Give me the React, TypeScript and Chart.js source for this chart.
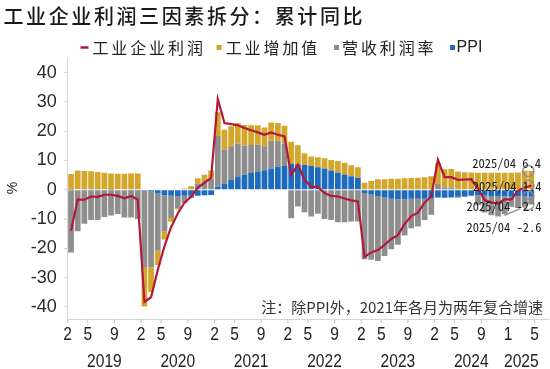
import React, { useEffect, useRef } from "react";
import { Chart, registerables } from "chart.js";
Chart.register(...registerables);

// ---------- data ----------
const yearList = [2019, 2020, 2021, 2022, 2023, 2024, 2025];
const monthsFullYear = [2, 3, 4, 5, 6, 7, 8, 9, 10, 11, 12];
const months2025 = [1, 2, 3, 4, 5, 6];
const shownMonths = [2, 5, 9];
const shownMonths2025 = [1, 5];

const categories: string[] = [];
yearList.forEach((yr) => {
  const ms = yr === 2025 ? months2025 : monthsFullYear;
  ms.forEach((m) => categories.push(`${yr}/${String(m).padStart(2, "0")}`));
});

const profit = [
  -14.0, -3.3, -3.4, -2.3, -2.4, -1.7, -1.7, -2.1, -2.9, -2.1, -3.3,
  -38.3, -36.7, -27.4, -19.3, -12.8, -8.1, -4.4, -2.4, 0.7, 2.4, 4.1,
  31.0, 22.8, 22.4, 22.0, 21.1, 20.3, 19.6, 18.8, 19.6, 18.8, 18.2,
  5.0, 8.5, 3.5, 1.0, 1.0, -1.1, -2.1, -2.3, -3.0, -3.6, -4.0,
  -22.9, -21.4, -20.6, -18.8, -16.8, -15.5, -11.7, -9.0, -7.8, -4.4, -2.3,
  10.2, 4.3, 4.3, 3.4, 3.5, 3.6, 0.5, -3.5, -4.3, -4.7, -3.3,
  -3.3, -0.3, 0.8, 1.4, null, null,
];

const valueAdded = [
  5.3, 6.4, 6.1, 6.0, 5.8, 5.6, 5.5, 5.5, 5.5, 5.6, 5.6,
  -13.5, -8.4, -4.9, -2.8, -1.3, -0.4, 0.4, 1.2, 1.8, 2.3, 2.8,
  8.1, 6.8, 6.8, 7.0, 7.0, 6.7, 6.6, 6.4, 6.3, 6.1, 6.1,
  7.5, 6.5, 4.0, 3.3, 3.4, 3.5, 3.6, 3.9, 4.0, 3.8, 3.6,
  2.4, 3.0, 3.6, 3.6, 3.8, 3.8, 3.9, 4.0, 4.1, 4.3, 4.6,
  7.0, 6.1, 6.3, 6.2, 6.0, 5.9, 5.8, 5.8, 5.8, 5.8, 5.8,
  5.8, 5.9, 6.5, 6.4, null, null,
];

const margin = [
  -21.4, -14.2, -11.6, -10.3, -10.3, -9.3, -8.8, -8.3, -9.3, -9.2, -9.7,
  -26.2, -25.9, -19.5, -12.3, -7.6, -4.2, -2.5, -0.8, 2.1, 2.8, 3.8,
  17.4, 11.6, 11.6, 11.4, 10.0, 9.6, 9.2, 8.2, 9.4, 8.8, 7.7,
  -9.7, -5.7, -7.7, -9.1, -8.2, -10.0, -10.3, -11.1, -11.1, -10.8, -10.8,
  -22.6, -22.3, -22.2, -20.0, -17.2, -15.6, -12.4, -10.0, -9.4, -7.2, -5.5,
  2.0, 0.9, 0.8, -0.3, -0.4, -0.3, -3.4, -5.8, -6.6, -7.0, -6.2,
  -3.5, -4.0, -3.4, -2.6, null, null,
];

const ppi = [
  0.1, 0.2, 0.3, 0.3, 0.3, 0.2, 0.1, 0.0, -0.2, -0.3, -0.3,
  -0.2, -0.6, -1.3, -1.9, -2.0, -2.1, -2.0, -2.0, -2.0, -1.9, -1.8,
  1.0, 2.1, 3.3, 4.4, 5.1, 5.7, 6.2, 6.7, 7.3, 7.9, 8.1,
  8.9, 8.7, 8.5, 8.1, 7.7, 7.3, 6.6, 5.9, 5.2, 4.6, 4.1,
  -1.1, -1.6, -2.1, -2.6, -3.1, -3.2, -3.2, -3.1, -3.1, -3.1, -3.0,
  -2.6, -2.7, -2.6, -2.4, -2.1, -1.9, -1.9, -2.0, -2.1, -2.1, -2.2,
  -2.3, -2.2, -2.3, -2.4, null, null,
];

const yTicks = [40, 30, 20, 10, 0, -10, -20, -30, -40];

const TITLE = "工业企业利润三因素拆分：累计同比";
const NOTE = "注：除PPI外，2021年各月为两年复合增速";
const seriesNames = ["工业企业利润", "工业增加值", "营收利润率", "PPI"];

const COLORS = {
  line: "#B3173A",
  va: "#D4A72C",
  margin: "#8E8E8E",
  ppi: "#1D6BBF",
  text: "#222222",
  axis: "#D6D6D6",
};

const LATIN = '"Liberation Sans", Arial, sans-serif';
const CJK = '"Noto Sans CJK SC", sans-serif';
const MONO = '"Noto Sans Mono CJK SC", "DejaVu Sans Mono", monospace';

const textPlugin = {
  id: "textPlugin",
  afterDraw(chart: any) {
    const ctx: CanvasRenderingContext2D = chart.ctx;
    const xs = chart.scales.x;
    const ys = chart.scales.y;
    const area = chart.chartArea;
    ctx.save();
    ctx.textBaseline = "middle";

    // title
    ctx.fillStyle = "#1a1a1a";
    ctx.font = `500 20px ${CJK}`;
    (ctx as any).letterSpacing = "2.6px";
    ctx.textAlign = "left";
    ctx.fillText(TITLE, 3.5, 16);

    // legend
    const ly = 47.5;
    ctx.font = `16px ${CJK}`;
    (ctx as any).letterSpacing = "2.9px";
    ctx.fillStyle = COLORS.text;
    ctx.strokeStyle = COLORS.line;
    ctx.lineWidth = 2.5;
    ctx.beginPath();
    ctx.moveTo(80.5, ly);
    ctx.lineTo(88.5, ly);
    ctx.stroke();
    ctx.fillText(seriesNames[0], 92.4, ly);
    ctx.fillStyle = COLORS.va;
    ctx.fillRect(216.5, ly - 2.5, 5, 5);
    ctx.fillStyle = COLORS.text;
    ctx.fillText(seriesNames[1], 225.7, ly);
    ctx.fillStyle = COLORS.margin;
    ctx.fillRect(334, ly - 2.5, 5, 5);
    ctx.fillStyle = COLORS.text;
    ctx.fillText(seriesNames[2], 342, ly);
    ctx.fillStyle = COLORS.ppi;
    ctx.fillRect(450, ly - 2.5, 5, 5);
    ctx.fillStyle = COLORS.text;
    (ctx as any).letterSpacing = "0px";
    ctx.font = `16px ${LATIN}`;
    ctx.fillText(seriesNames[3], 456.6, ly);

    // % label
    ctx.save();
    ctx.translate(13.5, 188);
    ctx.rotate(-Math.PI / 2);
    ctx.textAlign = "center";
    ctx.font = `14px ${LATIN}`;
    ctx.fillText("%", 0, 0);
    ctx.restore();

    // note
    ctx.font = `15px ${CJK}`;
    ctx.textAlign = "right";
    ctx.fillStyle = "#333";
    ctx.fillText(NOTE, 543, 307.5);

    // x axis ticks & labels
    const step = xs.getPixelForValue(1) - xs.getPixelForValue(0);
    const drawNarrow = (t: string, px: number, py: number) => {
      ctx.save();
      ctx.translate(px, py);
      ctx.scale(0.82, 1);
      ctx.textAlign = "center";
      ctx.fillText(t, 0, 0);
      ctx.restore();
    };
    ctx.font = `19px ${LATIN}`;
    ctx.fillStyle = COLORS.text;
    ctx.strokeStyle = "#BFBFBF";
    ctx.lineWidth = 1;
    yearList.forEach((yr) => {
      const ms = yr === 2025 ? shownMonths2025 : shownMonths;
      ms.forEach((m) => {
        const idx = categories.indexOf(`${yr}/${String(m).padStart(2, "0")}`);
        const px = xs.getPixelForValue(idx) - step / 2;
        ctx.beginPath();
        ctx.moveTo(px, area.bottom);
        ctx.lineTo(px, area.bottom + 3.5);
        ctx.stroke();
        drawNarrow(String(m), px, 335);
      });
      const idxs = categories
        .map((c, i) => (c.startsWith(`${yr}/`) && profit[i] !== null ? i : -1))
        .filter((i) => i >= 0);
      const first = xs.getPixelForValue(idxs[0]) - step / 2;
      const last = xs.getPixelForValue(idxs[idxs.length - 1]) + step / 2;
      drawNarrow(String(yr), (first + last) / 2, 361.5);
    });

    // end-of-series annotations
    const li = profit.reduce((acc: number, v, i) => (v !== null ? i : acc), 0);
    const lab = categories[li];
    const lx = xs.getPixelForValue(li) - 3;
    const vaTop = (valueAdded[li] as number) + Math.max(0, ppi[li] as number) + Math.max(0, margin[li] as number);
    const ppiBottom = Math.min(0, ppi[li] as number);
    const grayBottom = ppiBottom + Math.min(0, margin[li] as number);
    ctx.strokeStyle = "rgba(140,140,140,0.85)";
    ctx.lineWidth = 1.6;
    [vaTop, profit[li] as number, ppiBottom, grayBottom].forEach((v) => {
      ctx.beginPath();
      ctx.arc(lx, ys.getPixelForValue(v), 5.5, 0, Math.PI * 2);
      ctx.stroke();
    });
    ctx.beginPath();
    ctx.moveTo(lx - 24, ys.getPixelForValue(grayBottom) + 11);
    ctx.lineTo(lx - 8, ys.getPixelForValue(grayBottom) + 4);
    ctx.stroke();

    ctx.font = `12.5px ${MONO}`;
    ctx.fillStyle = "#1a1a1a";
    ctx.textAlign = "right";
    const fmt = (v: number) => v.toFixed(1);
    ctx.fillText(`${lab} ${fmt(valueAdded[li] as number)}`, 541, 163.5);
    ctx.fillText(`${lab} ${fmt(profit[li] as number)}`, 541.5, 186);
    ctx.fillText(`${lab} ${fmt(ppi[li] as number)}`, 541.5, 206);
    ctx.fillText(`${lab} ${fmt(margin[li] as number)}`, 541.5, 227);

    ctx.restore();
  },
};

export default function App() {
  const ref = useRef<HTMLCanvasElement | null>(null);
  useEffect(() => {
    document.body.style.margin = "0";
    const chart = new Chart(ref.current as HTMLCanvasElement, {
      type: "bar",
      data: {
        labels: categories,
        datasets: [
          {
            type: "line",
            label: seriesNames[0],
            data: profit,
            borderColor: COLORS.line,
            borderWidth: 2.2,
            pointRadius: 0,
            tension: 0,
            order: 0,
          } as any,
          {
            label: seriesNames[3],
            data: ppi,
            backgroundColor: COLORS.ppi,
            order: 1,
          },
          {
            label: seriesNames[2],
            data: margin,
            backgroundColor: COLORS.margin,
            order: 1,
          },
          {
            label: seriesNames[1],
            data: valueAdded,
            backgroundColor: COLORS.va,
            order: 1,
          },
        ],
      },
      options: {
        animation: false,
        responsive: false,
        devicePixelRatio: 1,
        layout: { padding: { top: 58, left: 0, right: 2, bottom: 0 } },
        datasets: { bar: { categoryPercentage: 1, barPercentage: 0.86, borderWidth: 0 } },
        plugins: { legend: { display: false }, tooltip: { enabled: false } },
        scales: {
          x: {
            type: "category",
            stacked: true,
            offset: true,
            grid: { display: false },
            border: { display: true, color: COLORS.axis },
            ticks: { display: false },
            afterFit: (s: any) => {
              s.height = 49.5;
            },
          },
          y: {
            stacked: true,
            min: -44.3,
            max: 45,
            afterBuildTicks: (s: any) => {
              s.ticks = yTicks.map((v) => ({ value: v }));
            },
            afterFit: (s: any) => {
              s.width = 67.7;
            },
            grid: { drawOnChartArea: false, drawTicks: true, tickLength: 4, color: COLORS.axis },
            border: { display: true, color: COLORS.axis },
            ticks: {
              padding: 7,
              color: "#2b2b2b",
              font: { family: LATIN, size: 18 },
            },
          },
        },
      } as any,
      plugins: [textPlugin],
    });
    return () => chart.destroy();
  }, []);
  return (
    <div style={{ position: "absolute", left: 0, top: 0, width: 550, height: 369 }}>
      <canvas ref={ref} width={550} height={369} />
    </div>
  );
}
